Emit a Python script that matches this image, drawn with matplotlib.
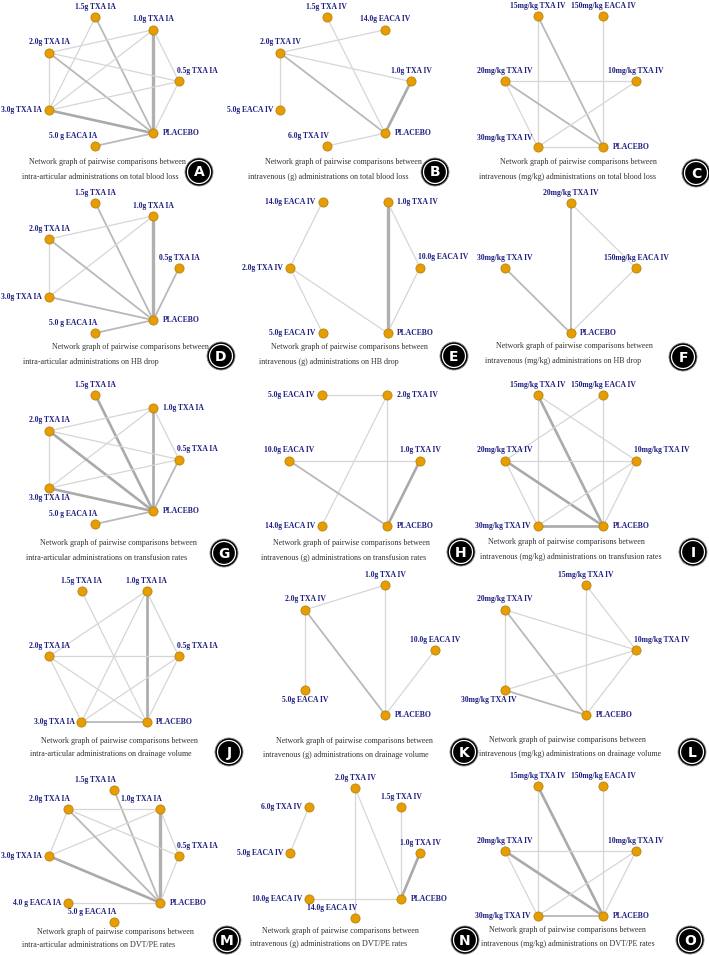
import numpy as np
import matplotlib.pyplot as plt
from matplotlib.patches import Circle

W, H = 709, 955

# treatments are listed counter-clockwise, starting at 3 o'clock;
# edges are (treatment, treatment, number of studies)

# A: intra-articular, total blood loss
a_nodes = ["0.5g TXA IA", "1.0g TXA IA", "1.5g TXA IA", "2.0g TXA IA", "3.0g TXA IA", "5.0 g EACA IA", "PLACEBO"]
a_edges = [("1.5g TXA IA", "3.0g TXA IA", 1), ("1.5g TXA IA", "PLACEBO", 2), ("1.0g TXA IA", "2.0g TXA IA", 1),
           ("1.0g TXA IA", "3.0g TXA IA", 1), ("1.0g TXA IA", "PLACEBO", 4), ("1.0g TXA IA", "0.5g TXA IA", 1),
           ("2.0g TXA IA", "0.5g TXA IA", 1), ("2.0g TXA IA", "3.0g TXA IA", 1), ("2.0g TXA IA", "PLACEBO", 2),
           ("3.0g TXA IA", "0.5g TXA IA", 1), ("3.0g TXA IA", "PLACEBO", 3), ("0.5g TXA IA", "PLACEBO", 1),
           ("5.0 g EACA IA", "PLACEBO", 2)]

# B: intravenous (g), total blood loss
b_nodes = ["1.0g TXA IV", "14.0g EACA IV", "1.5g TXA IV", "2.0g TXA IV", "5.0g EACA IV", "6.0g TXA IV", "PLACEBO"]
b_edges = [("1.5g TXA IV", "PLACEBO", 1), ("2.0g TXA IV", "14.0g EACA IV", 1), ("2.0g TXA IV", "1.0g TXA IV", 1),
           ("2.0g TXA IV", "5.0g EACA IV", 1), ("2.0g TXA IV", "PLACEBO", 2), ("1.0g TXA IV", "PLACEBO", 3),
           ("6.0g TXA IV", "PLACEBO", 1)]

# C: intravenous (mg/kg), total blood loss
c_nodes = ["10mg/kg TXA IV", "150mg/kg EACA IV", "15mg/kg TXA IV", "20mg/kg TXA IV", "30mg/kg TXA IV", "PLACEBO"]
c_edges = [("15mg/kg TXA IV", "30mg/kg TXA IV", 1), ("15mg/kg TXA IV", "PLACEBO", 2),
           ("150mg/kg EACA IV", "PLACEBO", 1), ("20mg/kg TXA IV", "10mg/kg TXA IV", 1),
           ("20mg/kg TXA IV", "PLACEBO", 2), ("20mg/kg TXA IV", "30mg/kg TXA IV", 1),
           ("10mg/kg TXA IV", "30mg/kg TXA IV", 1), ("30mg/kg TXA IV", "PLACEBO", 1)]

# D: intra-articular, HB drop
d_nodes = a_nodes
d_edges = [("1.5g TXA IA", "PLACEBO", 2), ("1.0g TXA IA", "2.0g TXA IA", 1), ("1.0g TXA IA", "3.0g TXA IA", 1),
           ("1.0g TXA IA", "PLACEBO", 4), ("2.0g TXA IA", "3.0g TXA IA", 1), ("2.0g TXA IA", "PLACEBO", 2),
           ("3.0g TXA IA", "PLACEBO", 2), ("0.5g TXA IA", "PLACEBO", 2), ("5.0 g EACA IA", "PLACEBO", 2)]

# E: intravenous (g), HB drop
e_nodes = ["10.0g EACA IV", "1.0g TXA IV", "14.0g EACA IV", "2.0g TXA IV", "5.0g EACA IV", "PLACEBO"]
e_edges = [("14.0g EACA IV", "2.0g TXA IV", 1), ("2.0g TXA IV", "5.0g EACA IV", 1), ("2.0g TXA IV", "PLACEBO", 1),
           ("1.0g TXA IV", "PLACEBO", 4), ("1.0g TXA IV", "10.0g EACA IV", 1), ("10.0g EACA IV", "PLACEBO", 1)]

# F: intravenous (mg/kg), HB drop
f_nodes = ["150mg/kg EACA IV", "20mg/kg TXA IV", "30mg/kg TXA IV", "PLACEBO"]
f_edges = [("20mg/kg TXA IV", "PLACEBO", 2), ("20mg/kg TXA IV", "150mg/kg EACA IV", 1),
           ("30mg/kg TXA IV", "PLACEBO", 2), ("150mg/kg EACA IV", "PLACEBO", 1)]

# G: intra-articular, transfusion rates
g_nodes = a_nodes
g_edges = [("1.5g TXA IA", "PLACEBO", 3), ("1.0g TXA IA", "2.0g TXA IA", 1), ("1.0g TXA IA", "3.0g TXA IA", 1),
           ("1.0g TXA IA", "0.5g TXA IA", 1), ("1.0g TXA IA", "PLACEBO", 3), ("2.0g TXA IA", "0.5g TXA IA", 1),
           ("2.0g TXA IA", "3.0g TXA IA", 1), ("2.0g TXA IA", "PLACEBO", 3), ("3.0g TXA IA", "0.5g TXA IA", 1),
           ("3.0g TXA IA", "PLACEBO", 3), ("0.5g TXA IA", "PLACEBO", 2), ("5.0 g EACA IA", "PLACEBO", 2)]

# H: intravenous (g), transfusion rates
h_nodes = ["1.0g TXA IV", "2.0g TXA IV", "5.0g EACA IV", "10.0g EACA IV", "14.0g EACA IV", "PLACEBO"]
h_edges = [("5.0g EACA IV", "2.0g TXA IV", 1), ("2.0g TXA IV", "14.0g EACA IV", 1), ("2.0g TXA IV", "PLACEBO", 1),
           ("10.0g EACA IV", "1.0g TXA IV", 1), ("10.0g EACA IV", "PLACEBO", 2), ("1.0g TXA IV", "PLACEBO", 3)]

# I: intravenous (mg/kg), transfusion rates
i_nodes = c_nodes
i_edges = [("15mg/kg TXA IV", "30mg/kg TXA IV", 1), ("15mg/kg TXA IV", "10mg/kg TXA IV", 1),
           ("15mg/kg TXA IV", "PLACEBO", 3), ("150mg/kg EACA IV", "20mg/kg TXA IV", 1),
           ("150mg/kg EACA IV", "PLACEBO", 1), ("20mg/kg TXA IV", "10mg/kg TXA IV", 1),
           ("20mg/kg TXA IV", "30mg/kg TXA IV", 1), ("20mg/kg TXA IV", "PLACEBO", 3),
           ("10mg/kg TXA IV", "30mg/kg TXA IV", 1), ("10mg/kg TXA IV", "PLACEBO", 1),
           ("30mg/kg TXA IV", "PLACEBO", 3)]

# J: intra-articular, drainage volume
j_nodes = ["0.5g TXA IA", "1.0g TXA IA", "1.5g TXA IA", "2.0g TXA IA", "3.0g TXA IA", "PLACEBO"]
j_edges = [("1.5g TXA IA", "PLACEBO", 1), ("1.0g TXA IA", "2.0g TXA IA", 1), ("1.0g TXA IA", "3.0g TXA IA", 1),
           ("1.0g TXA IA", "0.5g TXA IA", 1), ("1.0g TXA IA", "PLACEBO", 3), ("2.0g TXA IA", "0.5g TXA IA", 1),
           ("2.0g TXA IA", "3.0g TXA IA", 1), ("2.0g TXA IA", "PLACEBO", 1), ("0.5g TXA IA", "3.0g TXA IA", 1),
           ("0.5g TXA IA", "PLACEBO", 1), ("3.0g TXA IA", "PLACEBO", 2)]

# K: intravenous (g), drainage volume
k_nodes = ["10.0g EACA IV", "1.0g TXA IV", "2.0g TXA IV", "5.0g EACA IV", "PLACEBO"]
k_edges = [("1.0g TXA IV", "2.0g TXA IV", 1), ("1.0g TXA IV", "PLACEBO", 1), ("2.0g TXA IV", "5.0g EACA IV", 1),
           ("2.0g TXA IV", "PLACEBO", 2), ("10.0g EACA IV", "PLACEBO", 1)]

# L: intravenous (mg/kg), drainage volume
l_nodes = ["10mg/kg TXA IV", "15mg/kg TXA IV", "20mg/kg TXA IV", "30mg/kg TXA IV", "PLACEBO"]
l_edges = [("15mg/kg TXA IV", "10mg/kg TXA IV", 1), ("15mg/kg TXA IV", "PLACEBO", 1),
           ("20mg/kg TXA IV", "10mg/kg TXA IV", 1), ("20mg/kg TXA IV", "30mg/kg TXA IV", 1),
           ("20mg/kg TXA IV", "PLACEBO", 2), ("10mg/kg TXA IV", "30mg/kg TXA IV", 1),
           ("10mg/kg TXA IV", "PLACEBO", 1), ("30mg/kg TXA IV", "PLACEBO", 2)]

# M: intra-articular, DVT/PE rates
m_nodes = ["0.5g TXA IA", "1.0g TXA IA", "1.5g TXA IA", "2.0g TXA IA", "3.0g TXA IA", "4.0 g EACA IA",
           "5.0 g EACA IA", "PLACEBO"]
m_edges = [("1.5g TXA IA", "PLACEBO", 2), ("1.0g TXA IA", "2.0g TXA IA", 1), ("1.0g TXA IA", "3.0g TXA IA", 1),
           ("1.0g TXA IA", "0.5g TXA IA", 1), ("1.0g TXA IA", "PLACEBO", 4), ("2.0g TXA IA", "3.0g TXA IA", 1),
           ("2.0g TXA IA", "0.5g TXA IA", 1), ("2.0g TXA IA", "PLACEBO", 2), ("3.0g TXA IA", "PLACEBO", 3),
           ("0.5g TXA IA", "PLACEBO", 1), ("4.0 g EACA IA", "PLACEBO", 1)]

# N: intravenous (g), DVT/PE rates
n_nodes = ["1.0g TXA IV", "1.5g TXA IV", "2.0g TXA IV", "6.0g TXA IV", "5.0g EACA IV", "10.0g EACA IV",
           "14.0g EACA IV", "PLACEBO"]
n_edges = [("2.0g TXA IV", "PLACEBO", 1), ("2.0g TXA IV", "14.0g EACA IV", 1), ("1.5g TXA IV", "PLACEBO", 1),
           ("1.0g TXA IV", "PLACEBO", 3), ("6.0g TXA IV", "5.0g EACA IV", 1), ("10.0g EACA IV", "PLACEBO", 1)]

# O: intravenous (mg/kg), DVT/PE rates
o_nodes = c_nodes
o_edges = [("15mg/kg TXA IV", "30mg/kg TXA IV", 1), ("15mg/kg TXA IV", "PLACEBO", 3),
           ("150mg/kg EACA IV", "PLACEBO", 1), ("20mg/kg TXA IV", "10mg/kg TXA IV", 1),
           ("20mg/kg TXA IV", "30mg/kg TXA IV", 1), ("20mg/kg TXA IV", "PLACEBO", 3),
           ("10mg/kg TXA IV", "30mg/kg TXA IV", 1), ("10mg/kg TXA IV", "PLACEBO", 1),
           ("30mg/kg TXA IV", "PLACEBO", 2)]

line1 = "Network graph of pairwise comparisons between"
captions = ["intra-articular administrations on total blood loss",
            "intravenous (g) administrations on total blood loss",
            "intravenous (mg/kg) administrations on total blood loss",
            "intra-articular administrations on HB drop",
            "intravenous (g) administrations on HB drop",
            "intravenous (mg/kg) administrations on HB drop",
            "intra-articular administrations on transfusion rates",
            "intravenous (g) administrations on transfusion rates",
            "intravenous (mg/kg) administrations on transfusion rates",
            "intra-articular administrations on drainage volume",
            "intravenous (g) administrations on drainage volume",
            "intravenous (mg/kg) administrations on drainage volume",
            "intra-articular administrations on DVT/PE rates",
            "intravenous (g) administrations on DVT/PE rates",
            "intravenous (mg/kg) administrations on DVT/PE rates"]
letters = list("ABCDEFGHIJKLMNO")

# ---- layout (pixels): node box, label placement, caption, badge
panels = [
    (a_nodes, a_edges, (49, 17, 179, 146), ["ar", "a", "a", "a", "l", "al", "r"]),
    (b_nodes, b_edges, (280, 17, 411, 146), ["a", "a", "a", "a", "l", "al", "r"]),
    (c_nodes, c_edges, (505, 16, 636, 147), ["a", "a", "a", "a", "ul", "r"]),
    (d_nodes, d_edges, (49, 203, 179, 333), ["a", "a", "a", "a", "l", "al", "r"]),
    (e_nodes, e_edges, (290, 202, 420, 333), ["ar", "r", "l", "l", "l", "r"]),
    (f_nodes, f_edges, (505, 203, 636, 333), ["a", "a", "a", "r"]),
    (g_nodes, g_edges, (49, 395, 179, 524), ["ar", "r", "a", "a", "b", "al", "r"]),
    (h_nodes, h_edges, (289, 395, 420, 526), ["a", "r", "l", "a", "l", "r"]),
    (i_nodes, i_edges, (505, 395, 636, 526), ["ar", "a", "a", "a", "l", "r"]),
    (j_nodes, j_edges, (49, 591, 179, 722), ["ar", "a", "a", "a", "l", "r"]),
    (k_nodes, k_edges, (305, 585, 435, 715), ["a", "a", "a", "b", "r"]),
    (l_nodes, l_edges, (505, 585, 636, 715), ["ar", "a", "a", "bl", "r"]),
    (m_nodes, m_edges, (49, 790, 179, 922), ["ar", "al", "al", "al", "l", "l", "al", "r"]),
    (n_nodes, n_edges, (290, 788, 420, 918), ["a", "a", "a", "l", "l", "l", "al", "r"]),
    (o_nodes, o_edges, (505, 786, 636, 916), ["a", "a", "a", "a", "l", "r"]),
]
cap_pos = [(29, 162, 22, 177), (265, 162, 248, 177), (500, 162, 479, 177),
           (52, 347, 23, 362), (271, 347, 259, 362), (496, 346, 485, 361),
           (40, 543, 26, 558), (273, 543, 261, 558), (488, 542, 480, 557),
           (41, 741, 30, 754), (276, 741, 263, 755), (489, 740, 479, 754),
           (37, 932, 22, 945), (262, 931, 250, 944), (489, 930, 481, 944)]
badge_pos = [(199, 172), (435, 172), (696, 173), (221, 356), (454, 356), (683, 357),
             (224, 553), (461, 552), (693, 552), (229, 752), (464, 752), (692, 752),
             (227, 940), (465, 940), (690, 940)]

# offsets in points: dx, dy, ha, va
label_offsets = {"a": (0, 6, "center", "baseline"), "ar": (-1.5, 6, "left", "baseline"),
                 "al": (1.5, 6, "right", "baseline"), "ul": (-4, 5, "right", "baseline"),
                 "l": (-5, 0, "right", "center"), "r": (7, 0, "left", "center"),
                 "b": (0, -7, "center", "center"), "bl": (8, -7, "right", "center")}
edge_style = {1: ("#d6d6d6", 0.9), 2: ("#b9b9b9", 1.3), 3: ("#aaaaaa", 1.9), 4: ("#b0b0b0", 2.4)}

fig = plt.figure(figsize=(W / 100, H / 100), dpi=100)
base = fig.add_axes([0, 0, 1, 1])
base.set_xlim(0, W)
base.set_ylim(H, 0)
base.axis("off")

for (nodes, edges, box, labs), cap, (c1x, c1y, c2x, c2y), (bx, by), let in zip(
        panels, captions, cap_pos, badge_pos, letters):
    n = len(nodes)
    ang = 2 * np.pi * np.arange(n) / n
    x, y = np.cos(ang), np.sin(ang)
    x0, y0, x1, y1 = box
    ax = fig.add_axes([x0 / W, 1 - y1 / H, (x1 - x0) / W, (y1 - y0) / H])
    ax.set_xlim(x.min(), x.max())
    ax.set_ylim(y.min(), y.max())
    ax.axis("off")
    pos = {name: (xi, yi) for name, xi, yi in zip(nodes, x, y)}
    for s, t, w in edges:
        col, lw = edge_style[w]
        ax.plot([pos[s][0], pos[t][0]], [pos[s][1], pos[t][1]], color=col, lw=lw,
                clip_on=False, zorder=1, solid_capstyle="butt")
    ax.scatter(x, y, s=44, c="#e69d00", edgecolors="#b07a10", linewidths=0.5,
               zorder=3, clip_on=False)
    for name, xi, yi, lp in zip(nodes, x, y, labs):
        dx, dy, ha, va = label_offsets[lp]
        ax.annotate(name, (xi, yi), xytext=(dx, dy), textcoords="offset points", ha=ha, va=va,
                    fontsize=5.5, fontweight="bold", family="Liberation Serif", color="#1d1d80",
                    annotation_clip=False)

    base.text(c1x, c1y, line1, fontsize=5.8, family="Liberation Serif", color="#333333",
              ha="left", va="center")
    base.text(c2x, c2y, cap, fontsize=5.8, family="Liberation Serif", color="#333333",
              ha="left", va="center")
    base.add_patch(Circle((bx, by), 14, facecolor="black", edgecolor="#888888", lw=0.6, zorder=5))
    base.add_patch(Circle((bx, by), 11.5, facecolor="none", edgecolor="white", lw=0.9, zorder=6))
    base.text(bx, by + 0.5, let, fontsize=10, fontweight="bold", color="white", ha="center",
              va="center", family="DejaVu Sans", zorder=7)

fig.savefig("out.png", dpi=100)
